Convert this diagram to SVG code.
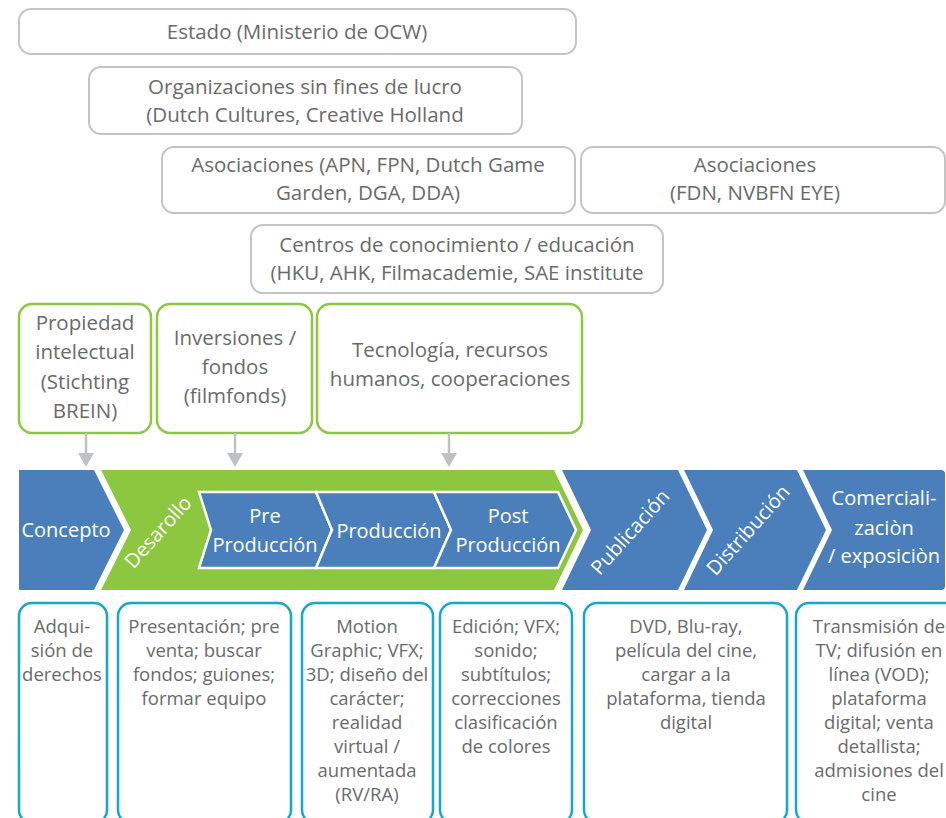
<svg xmlns="http://www.w3.org/2000/svg" width="946" height="818" viewBox="0 0 946 818">
<style>
text{font-family:"Open Sans","Liberation Sans",sans-serif;text-anchor:middle}
.gb{fill:#fff;stroke:#c4c4c4;stroke-width:2}
.gr{fill:#fff;stroke:#8dc63f;stroke-width:2.5}
.tl{fill:#fff;stroke:#13a9c4;stroke-width:2.5}
.t21{font-size:20.5px;fill:#6a6a6a}
.t19{font-size:18.5px;fill:#6a6a6a}
.w{font-size:20px;fill:#fff}
.blue{fill:#4a7fbb}
.inner{fill:#4a7fbb;stroke:#fff;stroke-width:2.5;stroke-linejoin:miter}
.conn{stroke:#bfc1c3;stroke-width:2.5;fill:none}
.head{fill:#bfc1c3}
</style>

<g id="estado"><rect class="gb" x="19" y="9" width="557" height="45" rx="12"/><text class="t21" x="297" y="39">Estado (Ministerio de OCW)</text></g>
<g id="organizaciones"><rect class="gb" x="89" y="67" width="433" height="67" rx="12"/><text class="t21" x="305" y="94">Organizaciones sin fines de lucro</text><text class="t21" x="305" y="122">(Dutch Cultures, Creative Holland</text></g>
<g id="asociaciones1"><rect class="gb" x="162" y="147" width="413" height="66" rx="12"/><text class="t21" x="368" y="172">Asociaciones (APN, FPN, Dutch Game</text><text class="t21" x="368" y="200">Garden, DGA, DDA)</text></g>
<g id="asociaciones2"><rect class="gb" x="581" y="147" width="364" height="66" rx="12"/><text class="t21" x="755" y="172">Asociaciones</text><text class="t21" x="755" y="200">(FDN, NVBFN EYE)</text></g>
<g id="centros"><rect class="gb" x="251" y="225" width="412" height="68" rx="12"/><text class="t21" x="457" y="252">Centros de conocimiento / educación</text><text class="t21" x="457" y="280">(HKU, AHK, Filmacademie, SAE institute</text></g>

<g id="propiedad"><rect class="gr" x="19" y="304" width="132" height="129" rx="13"/><text class="t21" x="85" y="330">Propiedad</text><text class="t21" x="85" y="359">intelectual</text><text class="t21" x="85" y="389">(Stichting</text><text class="t21" x="85" y="418">BREIN)</text></g>
<g id="inversiones"><rect class="gr" x="157" y="304" width="155" height="129" rx="13"/><text class="t21" x="235" y="345">Inversiones /</text><text class="t21" x="235" y="374">fondos</text><text class="t21" x="235" y="403">(filmfonds)</text></g>
<g id="tecnologia"><rect class="gr" x="317" y="304" width="265" height="129" rx="13"/><text class="t21" x="450" y="357">Tecnología, recursos</text><text class="t21" x="450" y="386">humanos, cooperaciones</text></g>

<g id="connectors">
<line class="conn" x1="86" y1="433" x2="86" y2="456"/><polygon class="head" points="78,453 94,453 86,467"/>
<line class="conn" x1="235" y1="433" x2="235" y2="456"/><polygon class="head" points="227,453 243,453 235,467"/>
<line class="conn" x1="449" y1="433" x2="449" y2="456"/><polygon class="head" points="441,453 457,453 449,467"/>
</g>

<g id="concepto"><path class="blue" d="M19,470 H94 L124,530 L94,590 H19 Z"/><text class="w" x="66" y="537">Concepto</text></g>
<g id="desarollo"><path fill="#8dc63f" d="M101,470 H554 L583,530 L554,590 H101 L131,530 Z"/><text class="w" transform="translate(158,532) rotate(-48)" x="0" y="7">Desarollo</text></g>
<g id="preproduccion"><path class="inner" d="M199,492 H316 L332,530 L316,568 H199 L211,530 Z"/><text class="w" x="265" y="523">Pre</text><text class="w" x="265" y="552">Producción</text></g>
<g id="produccion"><path class="inner" d="M316,492 H434 L451,530 L434,568 H316 L332,530 Z"/><text class="w" x="389" y="538">Producción</text></g>
<g id="postproduccion"><path class="inner" d="M434,492 H558 L576,530 L558,568 H434 L451,530 Z"/><text class="w" x="508" y="523">Post</text><text class="w" x="508" y="552">Producción</text></g>
<g id="publicacion"><path class="blue" d="M562,470 H678 L707,530 L678,590 H562 L591,530 Z"/><text class="w" transform="translate(630,532) rotate(-48)" x="0" y="7">Publicación</text></g>
<g id="distribucion"><path class="blue" d="M684,470 H797 L826,530 L797,590 H684 L713,530 Z"/><text class="w" transform="translate(748,530) rotate(-48)" x="0" y="7">Distribución</text></g>
<g id="comercializacion"><path class="blue" d="M803,470 H941 Q945,470 945,474 V586 Q945,590 941,590 H803 L832,530 Z"/><text class="w" x="884" y="505">Comerciali-</text><text class="w" x="884" y="535">zaciòn</text><text class="w" x="884" y="563">/ exposiciòn</text></g>

<g id="adquisicion"><rect class="tl" x="19" y="603" width="88" height="220" rx="13"/><text class="t19" x="62" y="633">Adqui-</text><text class="t19" x="62" y="657">sión de</text><text class="t19" x="62" y="681">derechos</text></g>
<g id="presentacion"><rect class="tl" x="118" y="603" width="173" height="220" rx="13"/><text class="t19" x="204" y="633">Presentación; pre</text><text class="t19" x="204" y="657">venta; buscar</text><text class="t19" x="204" y="681">fondos; guiones;</text><text class="t19" x="204" y="705">formar equipo</text></g>
<g id="motion"><rect class="tl" x="302" y="603" width="131" height="220" rx="13"/><text class="t19" x="367" y="633">Motion</text><text class="t19" x="367" y="657">Graphic; VFX;</text><text class="t19" x="367" y="681">3D; diseño del</text><text class="t19" x="367" y="705">carácter;</text><text class="t19" x="367" y="729">realidad</text><text class="t19" x="367" y="753">virtual /</text><text class="t19" x="367" y="777">aumentada</text><text class="t19" x="367" y="801">(RV/RA)</text></g>
<g id="edicion"><rect class="tl" x="440" y="603" width="132" height="220" rx="13"/><text class="t19" x="506" y="633">Edición; VFX;</text><text class="t19" x="506" y="657">sonido;</text><text class="t19" x="506" y="681">subtítulos;</text><text class="t19" x="506" y="705">correcciones</text><text class="t19" x="506" y="729">clasificación</text><text class="t19" x="506" y="753">de colores</text></g>
<g id="dvd"><rect class="tl" x="584" y="603" width="203" height="220" rx="13"/><text class="t19" x="686" y="633">DVD, Blu-ray,</text><text class="t19" x="686" y="657">película del cine,</text><text class="t19" x="686" y="681">cargar a la</text><text class="t19" x="686" y="705">plataforma, tienda</text><text class="t19" x="686" y="729">digital</text></g>
<g id="transmision"><rect class="tl" x="796" y="603" width="170" height="220" rx="13"/><text class="t19" x="879" y="633">Transmisión de</text><text class="t19" x="879" y="657">TV; difusión en</text><text class="t19" x="879" y="681">línea (VOD);</text><text class="t19" x="879" y="705">plataforma</text><text class="t19" x="879" y="729">digital; venta</text><text class="t19" x="879" y="753">detallista;</text><text class="t19" x="879" y="777">admisiones del</text><text class="t19" x="879" y="801">cine</text></g>
</svg>
